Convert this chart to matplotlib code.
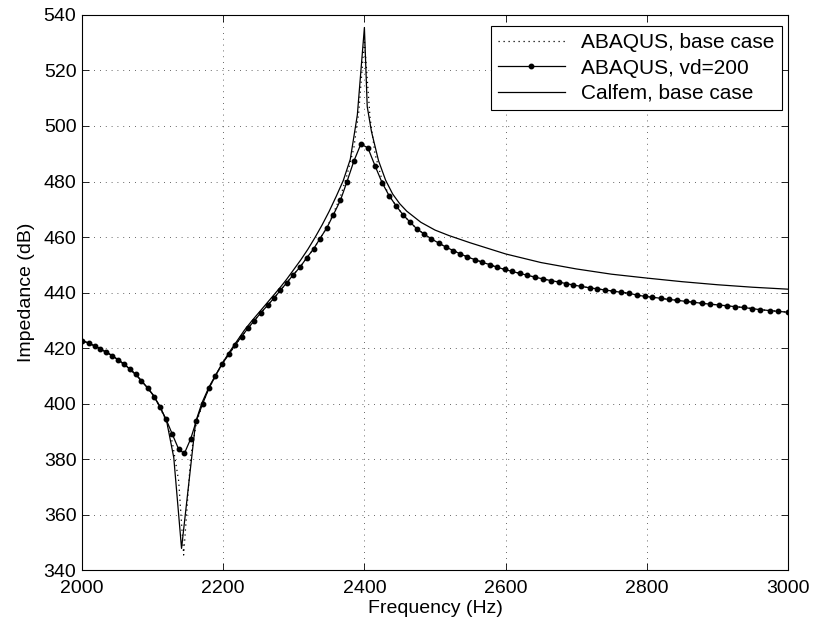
import matplotlib
matplotlib.use("Agg")
import matplotlib.pyplot as plt

plt.rcParams['font.family'] = ['Liberation Sans', 'DejaVu Sans']

# ABAQUS, vd=200 (punkter)
vd_freq = [2000, 2010, 2018, 2026, 2034, 2043, 2051, 2059, 2068, 2076, 2084, 2093,
           2102, 2110, 2119, 2128, 2137, 2145, 2154, 2162, 2171, 2180, 2189, 2198,
           2208, 2217, 2226, 2235, 2244, 2253, 2263, 2272, 2281, 2290, 2299, 2309,
           2318, 2328, 2337, 2347, 2356, 2366, 2375, 2385, 2395, 2405, 2415, 2425,
           2435, 2445, 2455, 2465, 2474, 2485, 2495, 2506, 2516, 2526, 2536, 2546,
           2557, 2567, 2578, 2588, 2599, 2609, 2620, 2631, 2642, 2653, 2664, 2675,
           2686, 2696, 2707, 2719, 2730, 2741, 2752, 2763, 2775, 2786, 2797, 2808,
           2820, 2831, 2843, 2855, 2866, 2878, 2890, 2902, 2914, 2925, 2937, 2949,
           2961, 2974, 2986, 3000]
vd_imp = [422.6, 421.7, 420.7, 419.6, 418.5, 417.2, 415.8, 414.2, 412.4, 410.5, 408.1, 405.7,
          402.5, 398.9, 394.4, 388.9, 383.5, 382.0, 387.3, 393.8, 400.0, 405.6, 409.9, 414.1,
          417.7, 421.1, 424.1, 427.1, 429.8, 432.6, 435.4, 438.0, 440.8, 443.5, 446.3, 449.2,
          452.4, 455.7, 459.4, 463.4, 468.0, 473.2, 479.7, 487.3, 493.5, 492.1, 485.7, 479.6,
          474.9, 471.2, 467.9, 465.3, 463.0, 461.0, 459.3, 457.7, 456.3, 455.1, 453.9, 452.8,
          451.8, 450.9, 450.0, 449.1, 448.3, 447.6, 446.9, 446.2, 445.5, 444.9, 444.3, 443.8,
          443.2, 442.7, 442.2, 441.7, 441.3, 440.9, 440.5, 440.1, 439.7, 439.1, 438.6, 438.3,
          437.9, 437.5, 437.2, 436.8, 436.5, 436.1, 435.8, 435.5, 435.2, 434.9, 434.6, 434.2,
          433.8, 433.5, 433.2, 432.9]

# ABAQUS, base case (prickad)
base_freq = [2000, 2010, 2018, 2026, 2034, 2043, 2051, 2059, 2068, 2076, 2084, 2093,
             2102, 2110, 2119, 2128, 2137, 2144, 2154, 2162, 2171, 2180, 2189, 2198,
             2208, 2217, 2226, 2235, 2244, 2253, 2263, 2272, 2281, 2290, 2299, 2309,
             2318, 2328, 2337, 2347, 2356, 2366, 2375, 2385, 2392, 2400, 2408, 2415, 2425,
             2435, 2445, 2455, 2465, 2474, 2485, 2495, 2506, 2516, 2526, 2536, 2546,
             2557, 2567, 2578, 2588, 2599, 2609, 2620, 2631, 2642, 2653, 2664, 2675,
             2686, 2696, 2707, 2719, 2730, 2741, 2752, 2763, 2775, 2786, 2797, 2808,
             2820, 2831, 2843, 2855, 2866, 2878, 2890, 2902, 2914, 2925, 2937, 2949,
             2961, 2974, 2986, 3000]
base_imp = [422.6, 421.7, 420.7, 419.6, 418.5, 417.2, 415.8, 414.2, 412.4, 410.5, 408.1, 405.7,
            402.5, 398.9, 393.8, 386.0, 372.0, 345.4, 381.0, 393.0, 400.0, 405.6, 409.9, 414.1,
            417.7, 421.1, 424.1, 427.1, 429.8, 432.6, 435.4, 438.0, 440.8, 443.5, 446.3, 449.2,
            452.4, 455.7, 459.4, 463.4, 468.5, 474.5, 482.0, 492.0, 505.0, 531.0, 503.0, 490.0, 480.5,
            475.0, 471.2, 467.9, 465.3, 463.0, 461.0, 459.3, 457.7, 456.3, 455.1, 453.9, 452.8,
            451.8, 450.9, 450.0, 449.1, 448.3, 447.6, 446.9, 446.2, 445.5, 444.9, 444.3, 443.8,
            443.2, 442.7, 442.2, 441.7, 441.3, 440.9, 440.5, 440.1, 439.7, 439.1, 438.6, 438.3,
            437.9, 437.5, 437.2, 436.8, 436.5, 436.1, 435.8, 435.5, 435.2, 434.9, 434.6, 434.2,
            433.8, 433.5, 433.2, 432.9]

# Calfem, base case (heldragen)
calfem_freq = [2000, 2020, 2040, 2060, 2080, 2100, 2110, 2120, 2130, 2141, 2161, 2170,
               2180, 2190, 2200, 2210, 2220, 2230, 2240, 2250, 2260, 2270, 2280, 2290,
               2300, 2310, 2320, 2330, 2340, 2350, 2360, 2370, 2380, 2390, 2400, 2404,
               2410, 2420, 2430, 2440, 2450, 2460, 2480, 2500, 2520, 2550, 2600, 2650,
               2700, 2750, 2800, 2850, 2900, 2950, 3000]
calfem_imp = [422.8, 420.6, 417.7, 414.2, 409.5, 403.4, 399.2, 393.5, 380.5, 347.8, 393.4, 400.3,
              406.0, 410.6, 415.0, 419.0, 422.7, 426.4, 429.6, 432.6, 435.6, 438.6, 441.6, 444.8,
              448.3, 451.8, 455.6, 459.8, 464.3, 469.2, 474.6, 480.3, 488.0, 504.0, 535.5, 507.0,
              498.0, 487.5, 480.5, 475.5, 472.0, 469.3, 465.3, 462.5, 460.5, 457.9, 453.9, 450.8,
              448.5, 446.6, 445.2, 443.9, 442.8, 441.9, 441.2]

fs = 14

fig = plt.figure(figsize=(8.15, 6.3), dpi=100)
ax = fig.add_axes([0.1006, 0.0952, 0.8663, 0.881])

ax.plot(base_freq, base_imp, color='black', linestyle=(0, (1, 3)), linewidth=0.9,
        label='ABAQUS, base case')
ax.plot(vd_freq, vd_imp, color='black', linestyle='-', linewidth=0.9, marker='o',
        markersize=3.2, label='ABAQUS, vd=200')
ax.plot(calfem_freq, calfem_imp, color='black', linestyle='-', linewidth=0.9,
        label='Calfem, base case')

ax.set_xlim(2000, 3000)
ax.set_ylim(340, 540)
ax.set_xticks([2000, 2200, 2400, 2600, 2800, 3000])
ax.set_yticks(range(340, 541, 20))

ax.grid(True, color='0.2', linestyle=(0, (1, 6)), linewidth=0.6)
ax.tick_params(direction='in', top=True, right=True, length=5, width=0.6,
               labelsize=fs)
ax.tick_params(axis='x', pad=7)
ax.tick_params(axis='y', pad=4)
for s in ax.spines.values():
    s.set_linewidth(0.8)

ax.set_xlabel('Frequency (Hz)', fontsize=fs, labelpad=2)
ax.set_ylabel('Impedance (dB)', fontsize=fs, labelpad=6)

# Legend uppe till höger
leg = ax.legend(loc='upper right', bbox_to_anchor=(0.9915, 0.98), borderaxespad=0,
                fancybox=False, edgecolor='black', fontsize=15, handlelength=3.2,
                labelspacing=0.3, borderpad=0.35, handletextpad=0.8)
leg.get_frame().set_linewidth(0.8)
leg.get_frame().set_alpha(1)

fig.savefig('out.png', dpi=100)
